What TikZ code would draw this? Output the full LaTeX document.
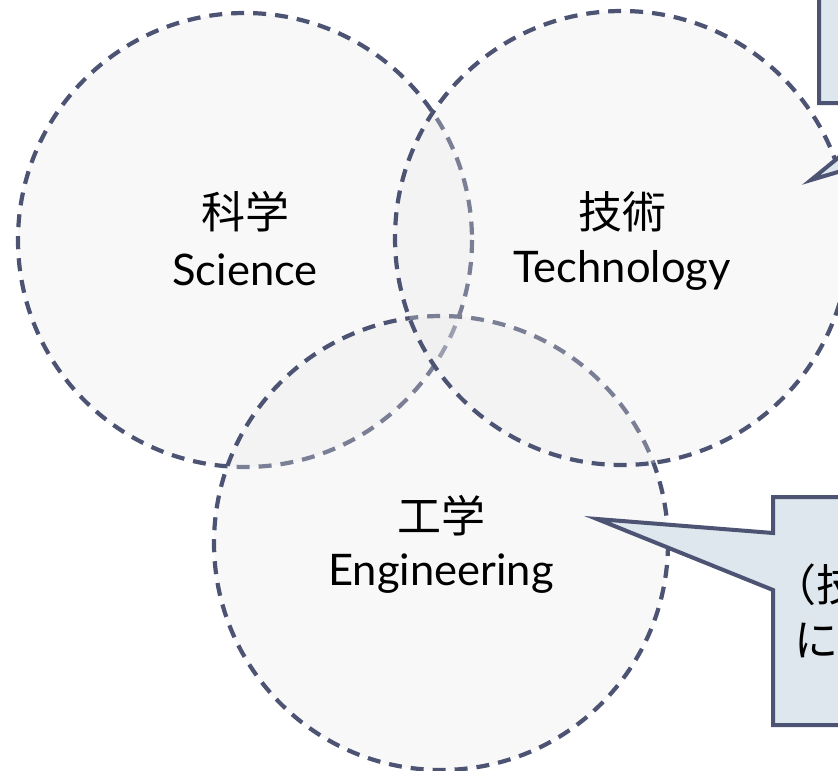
\documentclass[tikz,border=0pt]{standalone}
\usepackage{fontspec}
\setmainfont{Lato}
\newfontfamily\jpfont{Noto Sans CJK JP}
\begin{document}
\begin{tikzpicture}[x=1pt,y=-1pt,
  field/.style={draw=rim, line width=4.2pt, dash pattern=on 13pt off 9pt,
                fill=fieldfill, fill opacity=0.3},
  callout/.style={draw=rim, line width=4pt, fill=calloutfill, line join=miter},
  jp/.style={font=\jpfont\fontsize{44}{46}\selectfont, text=black},
  en/.style={font=\fontsize{43.5}{46}\selectfont, text=black},
]
\definecolor{rim}{RGB}{76,83,115}
\definecolor{fieldfill}{RGB}{232,232,232}
\definecolor{calloutfill}{RGB}{222,231,237}
\useasboundingbox (0,0) rectangle (838,771);
\clip (0,0) rectangle (838,771);

% the three overlapping fields
\draw[field] (245,240) circle[radius=227];
\draw[field] (441,543) circle[radius=227];
\draw[field] (622,238) circle[radius=227];

% callout balloons
\draw[callout] (819,-10) -- (819,103) -- (905,103) -- (811,180) -- (1070,103)
  -- (1100,103) -- (1100,-10) -- cycle;
\draw[callout] (597,519) -- (773,533) -- (773,497) -- (900,497) -- (900,725)
  -- (773,725) -- (773,590) -- cycle;
\node[jp, anchor=west, inner sep=0pt] (note1) at (772,585) {（技};
\node[jp, anchor=west, inner sep=0pt] (note2) at (794,640) {に};

% labels of the fields
\node[jp] (sciJ) at (245,212) {科学};
\node[en] (sciE) at (245,270) {Science};
\node[jp] (tecJ) at (622,212) {技術};
\node[en] (tecE) at (622,270) {Technology};
\node[jp] (engJ) at (441,516) {工学};
\node[en] (engE) at (441,574) {Engineering};
\end{tikzpicture}
\end{document}
